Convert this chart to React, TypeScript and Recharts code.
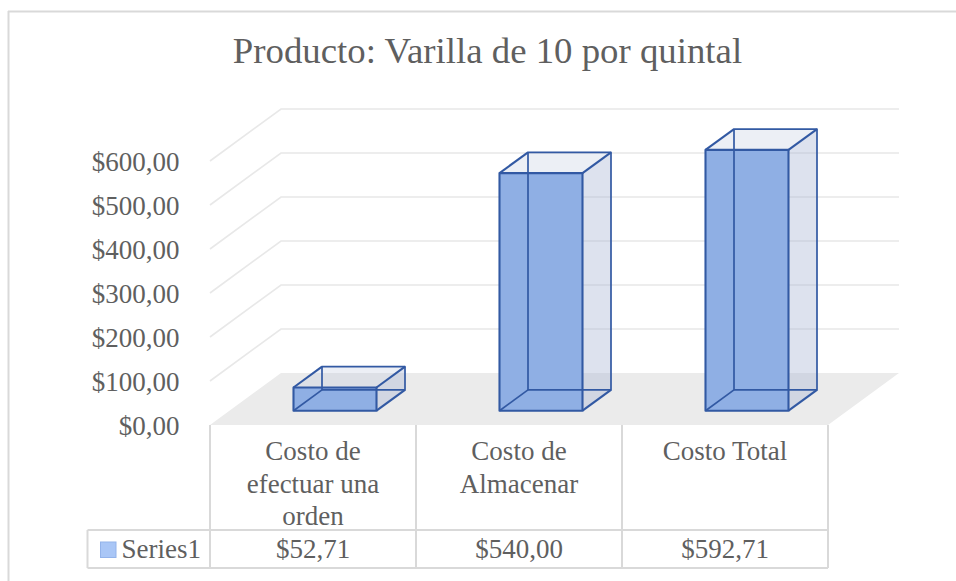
import { BarChart, Bar, XAxis, YAxis, CartesianGrid } from "recharts"

const categories = ["Costo de efectuar una orden", "Costo de Almacenar", "Costo Total"]
const categoryLines = [["Costo de", "efectuar una", "orden"], ["Costo de", "Almacenar"], ["Costo Total"]]
const series1 = [52.71, 540.0, 592.71]
const yTicks = [0, 100, 200, 300, 400, 500, 600]
const seriesName = "Series1"
const title = "Producto: Varilla de 10 por quintal"

const data = categories.map((name, i) => ({ name, value: series1[i] }))

const FONT = '"Liberation Serif", "Times New Roman", serif'
const TEXT = "#5f5f5f"
const GRID = "#e8e8e8"
const FLOOR = "#ebebeb"
const TABLE = "#d9d9d9"
const EDGE = "#3259a3"

// fake 3D: offsets from the bar plane to the back wall and to the front edge of the floor
const BACK = { dx: 49.5, dy: -37.7 }
const FRONT = { dx: -21.5, dy: 14.3 }
const BAR_DEPTH = { dx: 28.5, dy: -20.8 }

const money = (v: number) => "$" + v.toFixed(2).replace(".", ",")
const pt = (a: number, b: number) => `${a},${b}`

function Box3D(props: any) {
    const { x, y, width: w, height: h } = props
    const { dx, dy } = BAR_DEPTH
    return (
        <g>
            <polygon
                points={[pt(x + w, y), pt(x + w + dx, y + dy), pt(x + w + dx, y + h + dy), pt(x + w, y + h)].join(" ")}
                fill="rgba(175,186,214,0.42)"
            />
            <polygon
                points={[pt(x, y), pt(x + w, y), pt(x + w + dx, y + dy), pt(x + dx, y + dy)].join(" ")}
                fill="rgba(180,190,215,0.25)"
            />
            <rect x={x} y={y} width={w} height={h} fill="#8fafe4" />
            <g stroke={EDGE} fill="none" strokeLinejoin="round">
                <rect x={x + dx} y={y + dy} width={w} height={h} strokeWidth={1.7} />
                <line x1={x} y1={y} x2={x + dx} y2={y + dy} strokeWidth={2.1} />
                <line x1={x + w} y1={y} x2={x + w + dx} y2={y + dy} strokeWidth={2.1} />
                <line x1={x + w} y1={y + h} x2={x + w + dx} y2={y + h + dy} strokeWidth={2.1} />
                <line x1={x} y1={y + h} x2={x + dx} y2={y + h + dy} strokeWidth={1.7} />
                <rect x={x} y={y} width={w} height={h} strokeWidth={2.1} />
            </g>
        </g>
    )
}

// each horizontal grid line becomes a back wall line + side wall diagonal, the zero line becomes the floor
function WallLine(props: any) {
    const { x1, x2, y1, y, height, index } = props
    const bx1 = x1 + BACK.dx
    const bx2 = x2 + BACK.dx
    const by = y1 + BACK.dy
    const fx1 = x1 + FRONT.dx
    const fx2 = x2 + FRONT.dx
    const fy = y1 + FRONT.dy
    if (Math.abs(y1 - (y + height)) < 1) {
        return (
            <polygon
                key={`floor-${index}`}
                points={[pt(bx1, by), pt(bx2, by), pt(fx2, fy), pt(fx1, fy)].join(" ")}
                fill={FLOOR}
            />
        )
    }
    return (
        <polyline
            key={`wall-${index}`}
            points={`${fx1},${fy} ${bx1},${by} ${bx2},${by}`}
            fill="none"
            stroke={GRID}
            strokeWidth={1.6}
        />
    )
}

function ValueTick(props: any) {
    const { x, y, payload } = props
    return (
        <text x={x - 52} y={y + FRONT.dy + 9.7} textAnchor="end" fontFamily={FONT} fontSize={27} fill={TEXT}>
            {money(payload.value)}
        </text>
    )
}

// category labels + the data table under the floor
function CategoryTick(props: any) {
    const { x, y, index, width, visibleTicksCount } = props
    const n = visibleTicksCount || categories.length
    const band = width ? width / n : 206
    const cx = x + FRONT.dx
    const top = y + FRONT.dy
    const rowY = top + 105
    const bottom = top + 143
    const left = cx - band / 2
    const right = cx + band / 2
    const tableRight = left + band * (n - index)
    const legendLeft = left - band * index - 122.5
    return (
        <g>
            <g stroke={TABLE} strokeWidth={2}>
                <line x1={left} y1={top} x2={left} y2={bottom} />
                {index === n - 1 && <line x1={right} y1={top} x2={right} y2={bottom} />}
                {index === 0 && (
                    <>
                        <line x1={legendLeft} y1={rowY} x2={tableRight} y2={rowY} />
                        <line x1={legendLeft} y1={bottom} x2={tableRight} y2={bottom} />
                        <line x1={legendLeft} y1={rowY} x2={legendLeft} y2={bottom} />
                    </>
                )}
            </g>
            <text textAnchor="middle" fontFamily={FONT} fontSize={27} fill={TEXT}>
                {categoryLines[index].map((line, i) => (
                    <tspan key={i} x={cx} y={top + 35 + i * 32.7}>{line}</tspan>
                ))}
            </text>
            <text x={cx} y={top + 132.5} textAnchor="middle" fontFamily={FONT} fontSize={27} fill={TEXT}>
                {money(series1[index])}
            </text>
            {index === 0 && (
                <>
                    <rect x={legendLeft + 13} y={rowY + 12} width={15.5} height={15.5} fill="#a9c6f6" stroke="#93b3ea" strokeWidth={1} />
                    <text x={legendLeft + 34} y={top + 132.5} fontFamily={FONT} fontSize={27} fill={TEXT}>
                        {seriesName}
                    </text>
                </>
            )}
        </g>
    )
}

export default function App() {
    return (
        <div style={{ position: "absolute", left: 0, top: 0, width: 956, height: 581, overflow: "hidden", background: "#fff" }}>
            <svg width={956} height={581} style={{ position: "absolute", left: 0, top: 0 }}>
                <line x1={8.5} y1={11} x2={8.5} y2={581} stroke={TABLE} strokeWidth={2} />
                <line x1={8} y1={11.5} x2={956} y2={11.5} stroke={TABLE} strokeWidth={2} />
                <text x={487.5} y={63} textAnchor="middle" fontFamily={FONT} fontSize={36.8} fill={TEXT}>
                    {title}
                </text>
            </svg>
            <div style={{ position: "absolute", left: 0, top: 0 }}>
                <BarChart
                    width={956}
                    height={581}
                    data={data}
                    margin={{ top: 146.7, right: 106.5, bottom: 20.3, left: 91.5 }}
                >
                    <CartesianGrid vertical={false} horizontal={(p: any) => <WallLine {...p} />} />
                    <XAxis
                        dataKey="name"
                        height={150}
                        axisLine={false}
                        tickLine={false}
                        tickSize={0}
                        tickMargin={0}
                        interval={0}
                        tick={(p: any) => <CategoryTick {...p} />}
                    />
                    <YAxis
                        width={140}
                        domain={[0, 600]}
                        ticks={yTicks}
                        axisLine={false}
                        tickLine={false}
                        tickSize={0}
                        tickMargin={0}
                        tick={(p: any) => <ValueTick {...p} />}
                    />
                    <Bar dataKey="value" name={seriesName} barSize={83} shape={(p: any) => <Box3D {...p} />} isAnimationActive={false} />
                </BarChart>
            </div>
        </div>
    )
}
